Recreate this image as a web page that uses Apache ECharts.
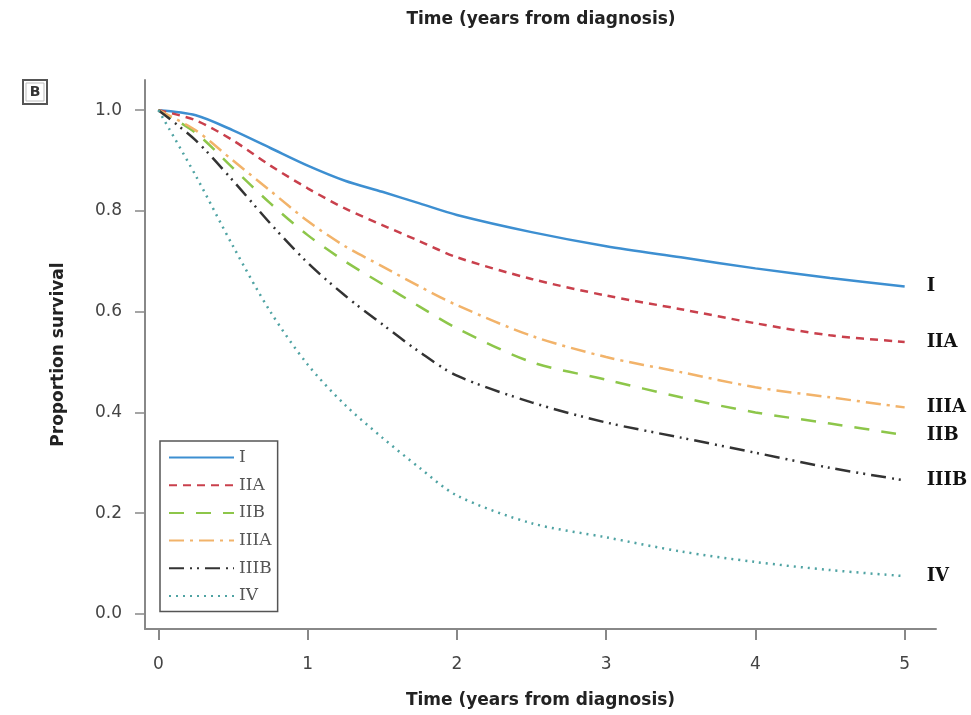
<!DOCTYPE html>
<html>
<head>
<meta charset="utf-8">
<script src="https://cdn.jsdelivr.net/npm/echarts@6/dist/echarts.min.js"></script>
<style>
  html, body { margin: 0; padding: 0; background: #fff; }
  #chart { width: 971px; height: 715px; }
</style>
</head>
<body>
<div id="chart"></div>
<script>
// years since diagnosis
const years = [0, 0.25, 0.5, 0.75, 1, 1.25, 1.5, 1.75, 2, 2.5, 3, 3.5, 4, 4.5, 5];

// proportion surviving, per stage
const stageI    = [1.0, 0.99, 0.96, 0.925, 0.89, 0.86, 0.838, 0.815, 0.792, 0.758, 0.73, 0.708, 0.686, 0.667, 0.65];
const stageIIA  = [1.0, 0.98, 0.94, 0.89, 0.845, 0.805, 0.772, 0.74, 0.708, 0.665, 0.632, 0.605, 0.577, 0.553, 0.54];
const stageIIB  = [1.0, 0.955, 0.885, 0.815, 0.752, 0.70, 0.655, 0.61, 0.567, 0.50, 0.465, 0.43, 0.40, 0.378, 0.355];
const stageIIIA = [1.0, 0.96, 0.90, 0.84, 0.78, 0.73, 0.69, 0.65, 0.613, 0.552, 0.51, 0.48, 0.45, 0.43, 0.41];
const stageIIIB = [1.0, 0.94, 0.86, 0.775, 0.697, 0.632, 0.575, 0.52, 0.473, 0.42, 0.38, 0.35, 0.32, 0.29, 0.265];
const stageIV   = [1.0, 0.87, 0.73, 0.60, 0.495, 0.415, 0.35, 0.29, 0.235, 0.18, 0.152, 0.124, 0.103, 0.087, 0.075];

const stageNames = ['I', 'IIA', 'IIB', 'IIIA', 'IIIB', 'IV'];
const xTicks = [0, 1, 2, 3, 4, 5];
const yTicks = [0, 0.2, 0.4, 0.6, 0.8, 1.0];

const chart = echarts.init(document.getElementById('chart'));

function pairs(vals) {
    return years.map((x, i) => [x, vals[i]]);
}

// line styles picked to look like the original plot
const styles = {
    'I':    { color: '#3d8fd1', type: 'solid', width: 2.5 },
    'IIA':  { color: '#c9404c', type: [8, 6], width: 2.5 },
    'IIB':  { color: '#8dc64a', type: [15, 12], width: 2.5 },
    'IIIA': { color: '#f2b36a', type: [15, 6, 3, 6], width: 2.5 },
    'IIIB': { color: '#333333', type: [15, 6, 2, 5, 2, 6], width: 2.5 },
    'IV':   { color: '#4fa3a3', type: [2, 5], width: 2.5 }
};

const allData = [stageI, stageIIA, stageIIB, stageIIIA, stageIIIB, stageIV];

const series = stageNames.map((name, i) => ({
    name: name,
    type: 'line',
    data: pairs(allData[i]),
    smooth: 0.3,
    showSymbol: false,
    symbol: 'none',
    lineStyle: styles[name],
    itemStyle: { color: styles[name].color },
    endLabel: {
        show: true,
        formatter: '{a}',
        distance: 22,
        color: '#111',
        fontFamily: 'DejaVu Serif',
        fontWeight: 'bold',
        fontSize: 18
    },
    emphasis: { disabled: true }
}));

const option = {
    backgroundColor: '#fff',
    animation: false,
    grid: { left: 145, right: 35, top: 80, bottom: 86 },
    legend: {
        data: stageNames,
        orient: 'vertical',
        left: 160,
        top: 441,
        itemWidth: 65,
        itemHeight: 16,
        itemGap: 10.7,
        padding: [8, 6, 7, 8],
        borderColor: '#555',
        borderWidth: 1.5,
        itemStyle: { opacity: 0 },
        textStyle: { fontFamily: 'DejaVu Serif', fontSize: 17, lineHeight: 16, color: '#555' }
    },
    xAxis: {
        type: 'value',
        min: -0.09,
        max: 5.21,
        name: 'Time (years from diagnosis)',
        nameLocation: 'middle',
        nameGap: 63,
        nameTextStyle: { fontFamily: 'DejaVu Sans', fontWeight: 'bold', fontSize: 17, color: '#222' },
        axisLine: { onZero: false, lineStyle: { color: '#888', width: 2 } },
        axisTick: { show: true, length: 11, customValues: xTicks, lineStyle: { color: '#888', width: 2 } },
        axisLabel: { customValues: xTicks, margin: 27, fontFamily: 'DejaVu Sans', fontSize: 17, color: '#444' },
        splitLine: { show: false }
    },
    yAxis: {
        type: 'value',
        min: -0.03,
        max: 1.06,
        name: 'Proportion survival',
        nameLocation: 'middle',
        nameGap: 78,
        nameRotate: 90,
        nameTextStyle: { fontFamily: 'DejaVu Sans', fontWeight: 'bold', fontSize: 17, color: '#222' },
        axisLine: { show: true, onZero: false, lineStyle: { color: '#888', width: 2 } },
        axisTick: { show: true, length: 10, customValues: yTicks, lineStyle: { color: '#888', width: 1.5 } },
        axisLabel: {
            customValues: yTicks,
            margin: 23,
            fontFamily: 'DejaVu Sans',
            fontSize: 17,
            color: '#444',
            formatter: v => v.toFixed(1)
        },
        splitLine: { show: false }
    },
    graphic: [
        {
            type: 'text',
            x: 541,
            y: 20,
            style: {
                text: 'Time (years from diagnosis)',
                font: 'bold 17px "DejaVu Sans"',
                fill: '#222',
                align: 'center',
                verticalAlign: 'middle'
            }
        },
        {
            type: 'group',
            left: 22,
            top: 79,
            children: [
                { type: 'rect', shape: { x: 0, y: 0, width: 24, height: 24 }, style: { fill: '#fff', stroke: '#555', lineWidth: 2 } },
                { type: 'rect', shape: { x: 3, y: 3, width: 18, height: 18 }, style: { fill: 'none', stroke: '#bbb', lineWidth: 1 } },
                { type: 'text', x: 12, y: 12, style: { text: 'B', font: 'bold 14px "DejaVu Sans"', fill: '#333', align: 'center', verticalAlign: 'middle' } }
            ]
        }
    ],
    series: series
};

chart.setOption(option);
</script>
</body>
</html>
